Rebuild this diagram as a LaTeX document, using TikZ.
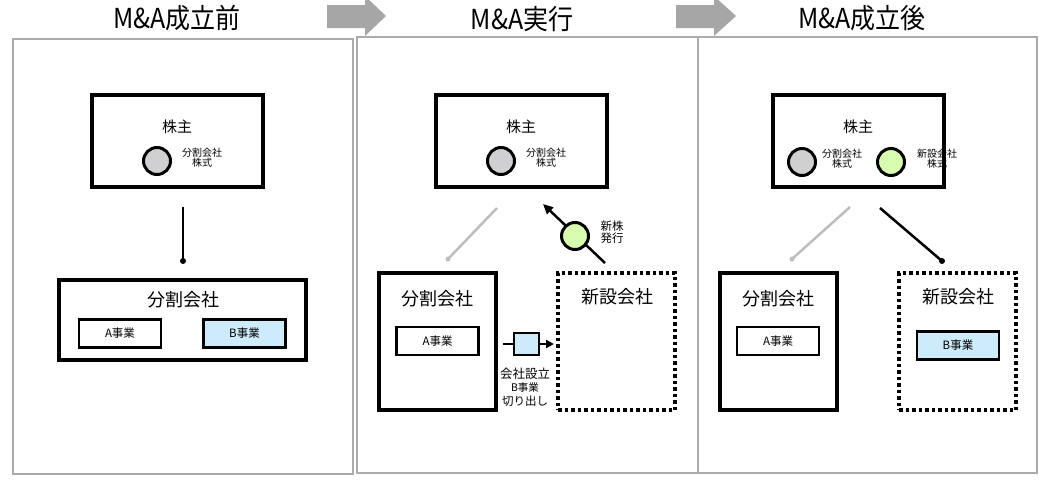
\documentclass[tikz,border=0pt]{standalone}
\usepackage{fontspec}
\setmainfont{Noto Sans CJK JP}
\usetikzlibrary{arrows.meta}
\definecolor{panelgray}{HTML}{ABABAB}
\definecolor{arrowgray}{HTML}{A6A6A6}
\definecolor{linegray}{HTML}{BDBDBD}
\definecolor{circgray}{HTML}{D0CFD1}
\definecolor{circgreen}{HTML}{D8FDAE}
\definecolor{bizblue}{HTML}{CDEBFA}
\newcommand{\fsz}[1]{\fontsize{#1}{#1}\selectfont}
\begin{document}
\begin{tikzpicture}[x=1pt,y=-1pt,
  panel/.style={draw=panelgray, line width=1.5pt},
  blockarrow/.style={fill=arrowgray, draw=none},
  title/.style={font=\fsz{25}, inner sep=0pt, yscale=1.1},
  holderbox/.style={draw, line width=3.8pt, minimum width=171pt, minimum height=92pt, inner sep=0pt},
  compbox/.style={draw, line width=3.5pt, minimum width=247pt, minimum height=80pt, inner sep=0pt},
  tallbox/.style={draw, line width=3.5pt, minimum width=117pt, minimum height=137pt, inner sep=0pt},
  dotbox/.style={draw, line width=3.5pt, dash pattern=on 3.5pt off 3pt, minimum width=117pt, minimum height=137pt, inner sep=0pt},
  bizbox/.style={draw, line width=2.8pt, minimum width=82pt, minimum height=28pt, inner sep=0pt, font=\fsz{11.5}},
  share/.style={circle, draw, line width=3pt, minimum size=27pt, inner sep=0pt},
  lbl/.style={inner sep=0pt, align=center},
  blackline/.style={line width=2.5pt},
  grayline/.style={line width=2.5pt, draw=linegray},
]
\useasboundingbox (0,0) rectangle (1039,496);

% panels
\draw[panel] (13,39) rectangle (353,474);
\draw[panel] (357,37) rectangle (1037,473);
\draw[panel] (698,37) -- (698,473);

% block arrows
\fill[blockarrow] (327,5) -- (365,5) -- (365,-4) -- (386,16) -- (365,36) -- (365,28) -- (327,28) -- cycle;
\fill[blockarrow] (676,5) -- (714,5) -- (714,-4) -- (736,16) -- (714,36) -- (714,28) -- (676,28) -- cycle;

% titles
\node[title] (t1) at (177,18) {M\&A成立前};
\node[title] (t2) at (522,19) {M\&A実行};
\node[title] (t3) at (862,18) {M\&A成立後};

% ===== Panel 1 =====
\node[holderbox] (h1) at (177.5,141) {};
\node[lbl, font=\fsz{15}] (h1t) at (177,127) {株主};
\node[share, fill=circgray] (c1) at (157,161) {};
\node[lbl, font=\fsz{10}] (c1l) at (202,158) {分割会社\\株式};
\coordinate (p1a) at (183,207);
\coordinate (p1b) at (183,261);
\draw[blackline] (p1a) -- (p1b);
\fill (p1b) circle (3pt);
\node[compbox] (s1) at (182.5,320) {};
\node[lbl, font=\fsz{18}] (s1t) at (183,300) {分割会社};
\node[bizbox] (a1) at (120,333.5) {A事業};
\node[bizbox, fill=bizblue] (b1) at (244.5,333.5) {B事業};

% ===== Panel 2 =====
\node[holderbox] (h2) at (521.5,141) {};
\node[lbl, font=\fsz{15}] (h2t) at (521,127) {株主};
\node[share, fill=circgray] (c2) at (501,161) {};
\node[lbl, font=\fsz{10}] (c2l) at (546,158) {分割会社\\株式};
\coordinate (g2a) at (497,208);
\coordinate (g2b) at (448,259);
\draw[grayline] (g2a) -- (g2b);
\fill[linegray] (g2b) circle (2.5pt);
\coordinate (n2a) at (605,263);
\coordinate (n2b) at (543,204);
\draw[blackline, -{Triangle[length=10pt,width=9pt]}] (n2a) -- (n2b);
\node[share, fill=circgreen] (c2n) at (575,236) {};
\node[lbl, font=\fsz{11.5}] (c2nl) at (612,232) {新株\\発行};
\node[tallbox] (s2) at (437.5,341.5) {};
\node[lbl, font=\fsz{18}] (s2t) at (437,299) {分割会社};
\node[bizbox] (a2) at (437.5,341) {A事業};
\node[dotbox] (n2) at (616.5,341.5) {};
\node[lbl, font=\fsz{18}] (n2t) at (617,297) {新設会社};
\node[draw, line width=2pt, fill=bizblue, minimum width=25pt, minimum height=22pt, inner sep=0pt] (bsq) at (526,344) {};
\coordinate (bl) at (503,344);
\coordinate (br) at (554,344);
\draw[line width=2pt] (bl) -- (bsq.west);
\draw[line width=2pt, -{Triangle[length=8pt,width=8pt]}] (bsq.east) -- (br);
\node[lbl, font=\fsz{12.5}] (bq1) at (525,374) {会社設立};
\node[lbl, font=\fsz{10.5}] (bq2) at (525,388) {B事業};
\node[lbl, font=\fsz{11.5}] (bq3) at (525,401) {切り出し};

% ===== Panel 3 =====
\node[holderbox] (h3) at (858.5,141) {};
\node[lbl, font=\fsz{15}] (h3t) at (858,127) {株主};
\node[share, fill=circgray] (c3) at (802,162) {};
\node[lbl, font=\fsz{10}] (c3l) at (842,159) {分割会社\\株式};
\node[share, fill=circgreen] (c3n) at (891,162) {};
\node[lbl, font=\fsz{10}] (c3nl) at (937,159) {新設会社\\株式};
\coordinate (g3a) at (850,207);
\coordinate (g3b) at (792,259);
\draw[grayline] (g3a) -- (g3b);
\fill[linegray] (g3b) circle (2.5pt);
\coordinate (k3a) at (880,208);
\coordinate (k3b) at (942,261);
\draw[blackline] (k3a) -- (k3b);
\fill (k3b) circle (3pt);
\node[tallbox] (s3) at (778.5,341.5) {};
\node[lbl, font=\fsz{18}] (s3t) at (778,299) {分割会社};
\node[bizbox] (a3) at (778,341) {A事業};
\node[dotbox] (n3) at (957.5,341.5) {};
\node[lbl, font=\fsz{18}] (n3t) at (958,297) {新設会社};
\node[bizbox, fill=bizblue] (b3) at (958,345.5) {B事業};
\end{tikzpicture}
\end{document}
